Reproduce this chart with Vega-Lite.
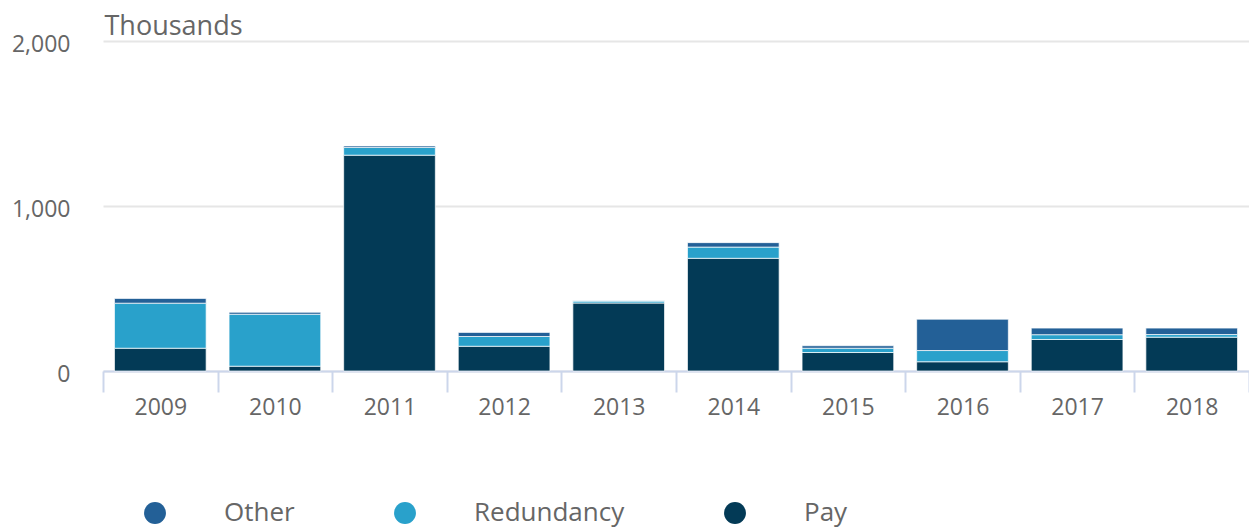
{
  "$schema": "https://vega.github.io/schema/vega-lite/v6.json",
  "width": 1146,
  "height": 330,
  "autosize": {"type": "none"},
  "padding": {"left": 103, "top": 41, "right": 0, "bottom": 159},
  "background": "#ffffff",
  "config": {
    "font": "Open Sans",
    "view": {"stroke": null}
  },
  "data": {
    "values": [
      {"year": "2009", "type": "Pay", "value": 138, "ord": 1},
      {"year": "2009", "type": "Redundancy", "value": 273, "ord": 2},
      {"year": "2009", "type": "Other", "value": 29, "ord": 3},
      {"year": "2010", "type": "Pay", "value": 29, "ord": 1},
      {"year": "2010", "type": "Redundancy", "value": 315, "ord": 2},
      {"year": "2010", "type": "Other", "value": 12, "ord": 3},
      {"year": "2011", "type": "Pay", "value": 1308, "ord": 1},
      {"year": "2011", "type": "Redundancy", "value": 47, "ord": 2},
      {"year": "2011", "type": "Other", "value": 9, "ord": 3},
      {"year": "2012", "type": "Pay", "value": 150, "ord": 1},
      {"year": "2012", "type": "Redundancy", "value": 59, "ord": 2},
      {"year": "2012", "type": "Other", "value": 25, "ord": 3},
      {"year": "2013", "type": "Pay", "value": 412, "ord": 1},
      {"year": "2013", "type": "Redundancy", "value": 12, "ord": 2},
      {"year": "2013", "type": "Other", "value": 2, "ord": 3},
      {"year": "2014", "type": "Pay", "value": 683, "ord": 1},
      {"year": "2014", "type": "Redundancy", "value": 68, "ord": 2},
      {"year": "2014", "type": "Other", "value": 27, "ord": 3},
      {"year": "2015", "type": "Pay", "value": 112, "ord": 1},
      {"year": "2015", "type": "Redundancy", "value": 26, "ord": 2},
      {"year": "2015", "type": "Other", "value": 15, "ord": 3},
      {"year": "2016", "type": "Pay", "value": 56, "ord": 1},
      {"year": "2016", "type": "Redundancy", "value": 68, "ord": 2},
      {"year": "2016", "type": "Other", "value": 190, "ord": 3},
      {"year": "2017", "type": "Pay", "value": 191, "ord": 1},
      {"year": "2017", "type": "Redundancy", "value": 29, "ord": 2},
      {"year": "2017", "type": "Other", "value": 40, "ord": 3},
      {"year": "2018", "type": "Pay", "value": 205, "ord": 1},
      {"year": "2018", "type": "Redundancy", "value": 16, "ord": 2},
      {"year": "2018", "type": "Other", "value": 39, "ord": 3}
    ]
  },
  "mark": {"type": "bar", "width": {"band": 0.8}, "stroke": "#ffffff", "strokeWidth": 1, "strokeOpacity": 0.7},
  "encoding": {
    "x": {
      "field": "year",
      "type": "nominal",
      "scale": {"paddingInner": 0, "paddingOuter": 0},
      "axis": {
        "title": null,
        "labelAngle": 0,
        "labelFontSize": 23,
        "labelColor": "#666666",
        "labelPadding": 4,
        "domainColor": "#ccd6eb",
        "domainWidth": 2,
        "tickColor": "#ccd6eb",
        "tickWidth": 2,
        "tickSize": 21,
        "tickBand": "extent",
        "grid": false
      }
    },
    "y": {
      "field": "value",
      "type": "quantitative",
      "stack": "zero",
      "scale": {"domain": [0, 2000]},
      "axis": {
        "values": [0, 1000, 2000],
        "format": ",d",
        "title": "Thousands",
        "titleAngle": 0,
        "titleAlign": "left",
        "titleBaseline": "alphabetic",
        "titleX": 1,
        "titleY": -7,
        "titleFontSize": 27,
        "titleFontWeight": "normal",
        "titleColor": "#666666",
        "labelFontSize": 23,
        "labelColor": "#666666",
        "labelPadding": 33,
        "labelOffset": 3,
        "domain": false,
        "ticks": false,
        "gridColor": "#e6e6e6",
        "gridWidth": 2
      }
    },
    "color": {
      "field": "type",
      "type": "nominal",
      "scale": {
        "domain": ["Other", "Redundancy", "Pay"],
        "range": ["#236097", "#29a1cb", "#033a56"]
      },
      "legend": {
        "title": null,
        "orient": "none",
        "direction": "horizontal",
        "legendX": 39,
        "legendY": 459,
        "symbolType": "circle",
        "symbolSize": 480,
        "symbolStrokeWidth": 0,
        "labelFontSize": 26,
        "labelColor": "#666666",
        "labelOffset": 56,
        "columnPadding": 97,
        "padding": 0
      }
    },
    "order": {"field": "ord", "type": "quantitative"}
  }
}
